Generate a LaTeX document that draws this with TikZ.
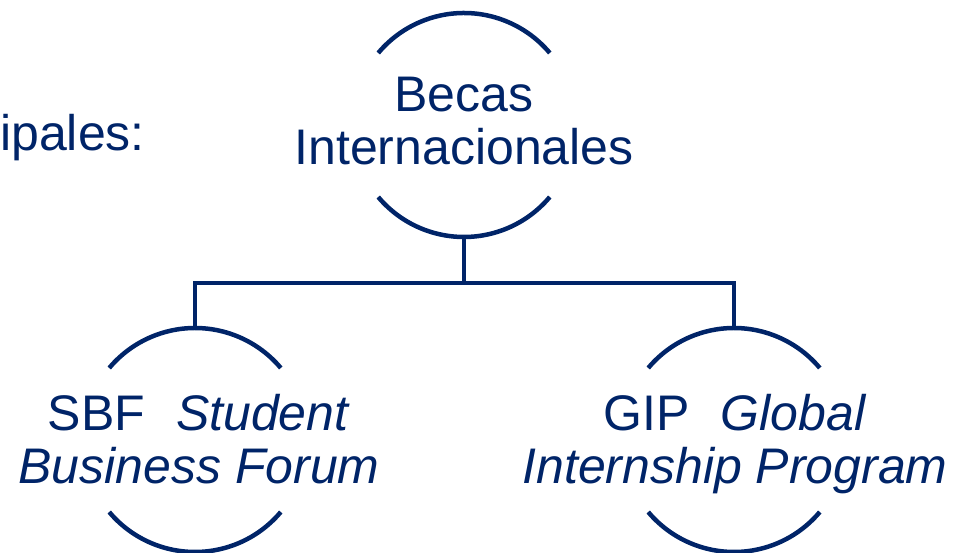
\documentclass[tikz,border=0pt]{standalone}
\usepackage{fontspec}
\setmainfont{Liberation Sans}
\usepackage{xcolor}
\definecolor{navy}{RGB}{0,36,104}

\begin{document}
\begin{tikzpicture}[x=1pt,y=1pt,
    lbl/.style={text=navy,font=\fontsize{50}{53}\selectfont,align=center,inner sep=0pt,text depth=0pt},
    ring/.style={draw=navy,line width=4.5pt},
    wire/.style={draw=navy,line width=4.5pt}]
    \useasboundingbox (0,0) rectangle (957,553);

    % circle centres
    \coordinate (becas) at (464,428);
    \coordinate (sbf) at (195,113);
    \coordinate (gip) at (734,113);

    % labels
    \node [lbl] (becaslbl) at ([yshift=4]becas) {Becas\\Internacionales};
    \node [lbl] (sbflbl) at ([xshift=4,yshift=1]sbf) {SBF\hspace{0.62em}\textit{Student}\\\textit{Business Forum}};
    \node [lbl] (giplbl) at ([xshift=1,yshift=1]gip) {GIP\hspace{0.62em}\textit{Global}\\\textit{Internship Program}};
    \node [lbl,anchor=base west] (cut) at (0,402) {ipales:};

    % open rings
    \foreach \c in {becas,sbf,gip} {
        \draw [ring] ([shift={(40:112)}]\c) arc (40:140:112);
        \draw [ring] ([shift={(220:112)}]\c) arc (220:320:112);
    }

    % tree lines
    \coordinate (becasbot) at ([yshift=-112]becas);
    \coordinate (sbftop) at ([yshift=112]sbf);
    \coordinate (giptop) at ([yshift=112]gip);
    \coordinate (bar) at ([yshift=-46]becasbot);
    \draw [wire] (becasbot) -- (bar);
    \draw [wire] (sbftop) |- (bar) -| (giptop);
\end{tikzpicture}
\end{document}
